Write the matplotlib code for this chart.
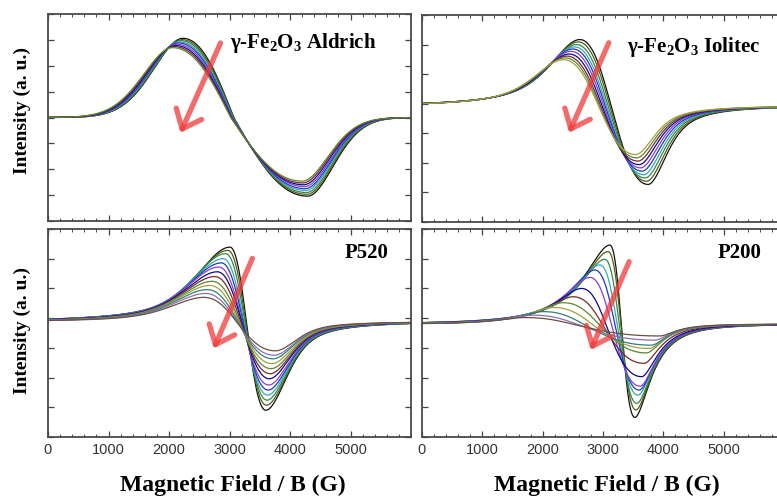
import numpy as np
import matplotlib.pyplot as plt
from matplotlib.ticker import MultipleLocator

plt.rcParams['mathtext.fontset'] = 'custom'
plt.rcParams['mathtext.rm'] = 'Liberation Serif:bold'
plt.rcParams['mathtext.it'] = 'Liberation Serif:bold'
plt.rcParams['mathtext.bf'] = 'Liberation Serif:bold'

field = np.linspace(0, 6000, 1501)

colors = ['#111111', '#5c5c10', '#2f8a4a', '#36a8b8', '#2038c0', '#8a3fd0',
          '#0a0a90', '#7a2a2a', '#5a8a2a', '#a0a040', '#2f8080', '#8c70b0',
          '#6a5040', '#505050']

# gamma-Fe2O3 Aldrich
ald_peak_B = [2230, 2215, 2195, 2175, 2155, 2130, 2110, 2085, 2060]
ald_peak_I = [3.06, 3.01, 2.97, 2.92, 2.88, 2.83, 2.78, 2.74, 2.70]
ald_trough_B = [4290, 4280, 4270, 4260, 4250, 4240, 4225, 4210, 4200]
ald_trough_I = [-3.04, -2.97, -2.90, -2.82, -2.75, -2.67, -2.60, -2.53, -2.46]
ald_cross_B = [3070, 3065, 3060, 3050, 3045, 3040, 3030, 3025, 3020]

# gamma-Fe2O3 Iolitec
iol_peak_B = [2616, 2590, 2560, 2530, 2500, 2470, 2440, 2400, 2370, 2340]
iol_peak_I = [2.17, 2.09, 2.00, 1.92, 1.85, 1.77, 1.68, 1.61, 1.55, 1.49]
iol_trough_B = [3747, 3725, 3700, 3675, 3650, 3625, 3600, 3580, 3560, 3540]
iol_trough_I = [-2.73, -2.62, -2.51, -2.40, -2.28, -2.17, -2.06, -1.94, -1.83, -1.72]

# P520
p520_peak_B = [3007, 2974, 2935, 2897, 2864, 2824, 2798, 2758, 2715, 2675, 2632, 2604, 2576]
p520_peak_I = [2.39, 2.28, 2.17, 2.00, 1.86, 1.72, 1.56, 1.40, 1.24, 1.10, 0.96, 0.83, 0.70]
p520_trough_B = [3600, 3610, 3620, 3630, 3640, 3650, 3660, 3675, 3690, 3705, 3720, 3740, 3760]
p520_trough_I = [-3.10, -2.93, -2.76, -2.59, -2.42, -2.25, -2.04, -1.87, -1.70, -1.53, -1.37, -1.25, -1.10]

# P200
p200_peak_B = [3113, 3085, 3030, 2947, 2864, 2781, 2644, 2505, 2340, 2174, 2008, 1843, 1700]
p200_peak_I = [2.46, 2.24, 1.98, 1.79, 1.62, 1.37, 1.00, 0.72, 0.52, 0.36, 0.22, 0.10, 0.02]
p200_trough_B = [3527, 3545, 3560, 3580, 3600, 3615, 3640, 3680, 3720, 3760, 3800, 3860, 3940]
p200_trough_I = [-3.34, -3.09, -2.87, -2.59, -2.42, -2.29, -1.97, -1.52, -1.17, -1.02, -0.91, -0.74, -0.60]


def shape(u, eta):
    # derivative line shape, extremum 1 at u = 1 (Lorentz/Gauss mix)
    lor = (16 / 9) * u / (1 + u**2 / 3)**2
    gau = u * np.exp((1 - u**2) / 2)
    return eta * lor + (1 - eta) * gau


def trace(B, bp, ip, bt, it, base, wl, wr, eta, bc=None):
    ap = ip - base
    at = base - it
    if bc is None:
        bc = (ap * bt + at * bp) / (ap + at)
    y = np.zeros_like(B)
    m = B < bp
    y[m] = ap * shape(1 + (bp - B[m]) / wl, eta)
    m = (B >= bp) & (B < bc)
    y[m] = ap * shape((bc - B[m]) / (bc - bp), eta)
    m = (B >= bc) & (B < bt)
    y[m] = -at * shape((B[m] - bc) / (bt - bc), eta)
    m = B >= bt
    y[m] = -at * shape(1 + (B[m] - bt) / wr, eta)
    return base + y


panels = [
    dict(pos=[48/777, 1-221/497, 363/777, 207/497], ylim=(-4, 4),
         peaks=(ald_peak_B, ald_peak_I), troughs=(ald_trough_B, ald_trough_I),
         cross=ald_cross_B, base=0.0, wl=630, wr=560, eta=0.0,
         label=r'γ-Fe$_2$O$_3$ Aldrich', lx=0.50, ly=0.86, ha='left',
         arrow=((2852, 2.88), (2189, -0.59)), xlabels=False),
    dict(pos=[422/777, 1-222/497, 362/777, 207/497], ylim=(-4, 3),
         peaks=(iol_peak_B, iol_peak_I), troughs=(iol_trough_B, iol_trough_I),
         cross=None, base=-0.08, wl=540, wr=340, eta=0.6,
         label=r'γ-Fe$_2$O$_3$ Iolitec', lx=0.565, ly=0.845, ha='left',
         arrow=((3096, 2.06), (2439, -0.98)), xlabels=False),
    dict(pos=[48/777, 1-437/497, 363/777, 208/497], ylim=(-4, 3),
         peaks=(p520_peak_B, p520_peak_I), troughs=(p520_trough_B, p520_trough_I),
         cross=None, base=-0.12, wl=630, wr=400, eta=0.5,
         label='P520', lx=0.937, ly=0.886, ha='right',
         arrow=((3378, 2.01), (2741, -1.02)), xlabels=True),
    dict(pos=[422/777, 1-437/497, 362/777, 208/497], ylim=(-4, 3),
         peaks=(p200_peak_B, p200_peak_I), troughs=(p200_trough_B, p200_trough_I),
         cross=None, base=-0.2, wl=380, wr=231, eta=1.0,
         label='P200', lx=0.939, ly=0.885, ha='right',
         arrow=((3433, 1.90), (2798, -1.07)), xlabels=True),
]

fig = plt.figure(figsize=(7.77, 4.97), dpi=100)

for p in panels:
    ax = fig.add_axes(p['pos'])
    pb, pi = p['peaks']
    tb, ti = p['troughs']
    for k in range(len(pb)):
        bc = p['cross'][k] if p['cross'] is not None else None
        y = trace(field, pb[k], pi[k], tb[k], ti[k], p['base'],
                  p['wl'], p['wr'], p['eta'], bc)
        ax.plot(field, y, color=colors[k % len(colors)], lw=0.9)

    ax.set_xlim(0, 6000)
    ax.set_ylim(*p['ylim'])
    ax.set_xticks([0, 1000, 2000, 3000, 4000, 5000])
    ax.xaxis.set_minor_locator(MultipleLocator(200))
    ax.yaxis.set_major_locator(MultipleLocator(1))
    ax.tick_params(which='both', direction='in', top=True, right=True,
                   color='#444444', labelleft=False,
                   labelbottom=p['xlabels'], labelsize=10.5, labelcolor='#333333',
                   pad=4)
    ax.tick_params(which='major', length=4, width=0.9)
    ax.tick_params(which='minor', length=2, width=0.7)
    for lab in ax.get_xticklabels():
        lab.set_family('Liberation Sans')
    for sp in ax.spines.values():
        sp.set_color('#4a4a4a')
        sp.set_linewidth(1.3)

    (x0, y0), (x1, y1) = p['arrow']
    ax.annotate('', xy=(x1, y1), xytext=(x0, y0),
                arrowprops=dict(arrowstyle='->,head_length=0.6,head_width=0.5',
                                lw=3.8, color='#f03a3a', alpha=0.75,
                                mutation_scale=20, shrinkA=0, shrinkB=0))

    ax.text(p['lx'], p['ly'], p['label'], transform=ax.transAxes,
            ha=p['ha'], va='center', fontsize=15, fontweight='bold',
            family='Liberation Serif')

for yc in (110, 330):
    fig.text(22/777, 1 - yc/497, 'Intensity (a. u.)', rotation=90,
             ha='center', va='center', fontsize=14, fontweight='bold',
             family='Liberation Serif')
for xc in (233, 607):
    fig.text(xc/777, 1 - 485/497, 'Magnetic Field / B (G)', ha='center',
             va='center', fontsize=17, fontweight='bold',
             family='Liberation Serif')

fig.savefig('out.png', dpi=100)
